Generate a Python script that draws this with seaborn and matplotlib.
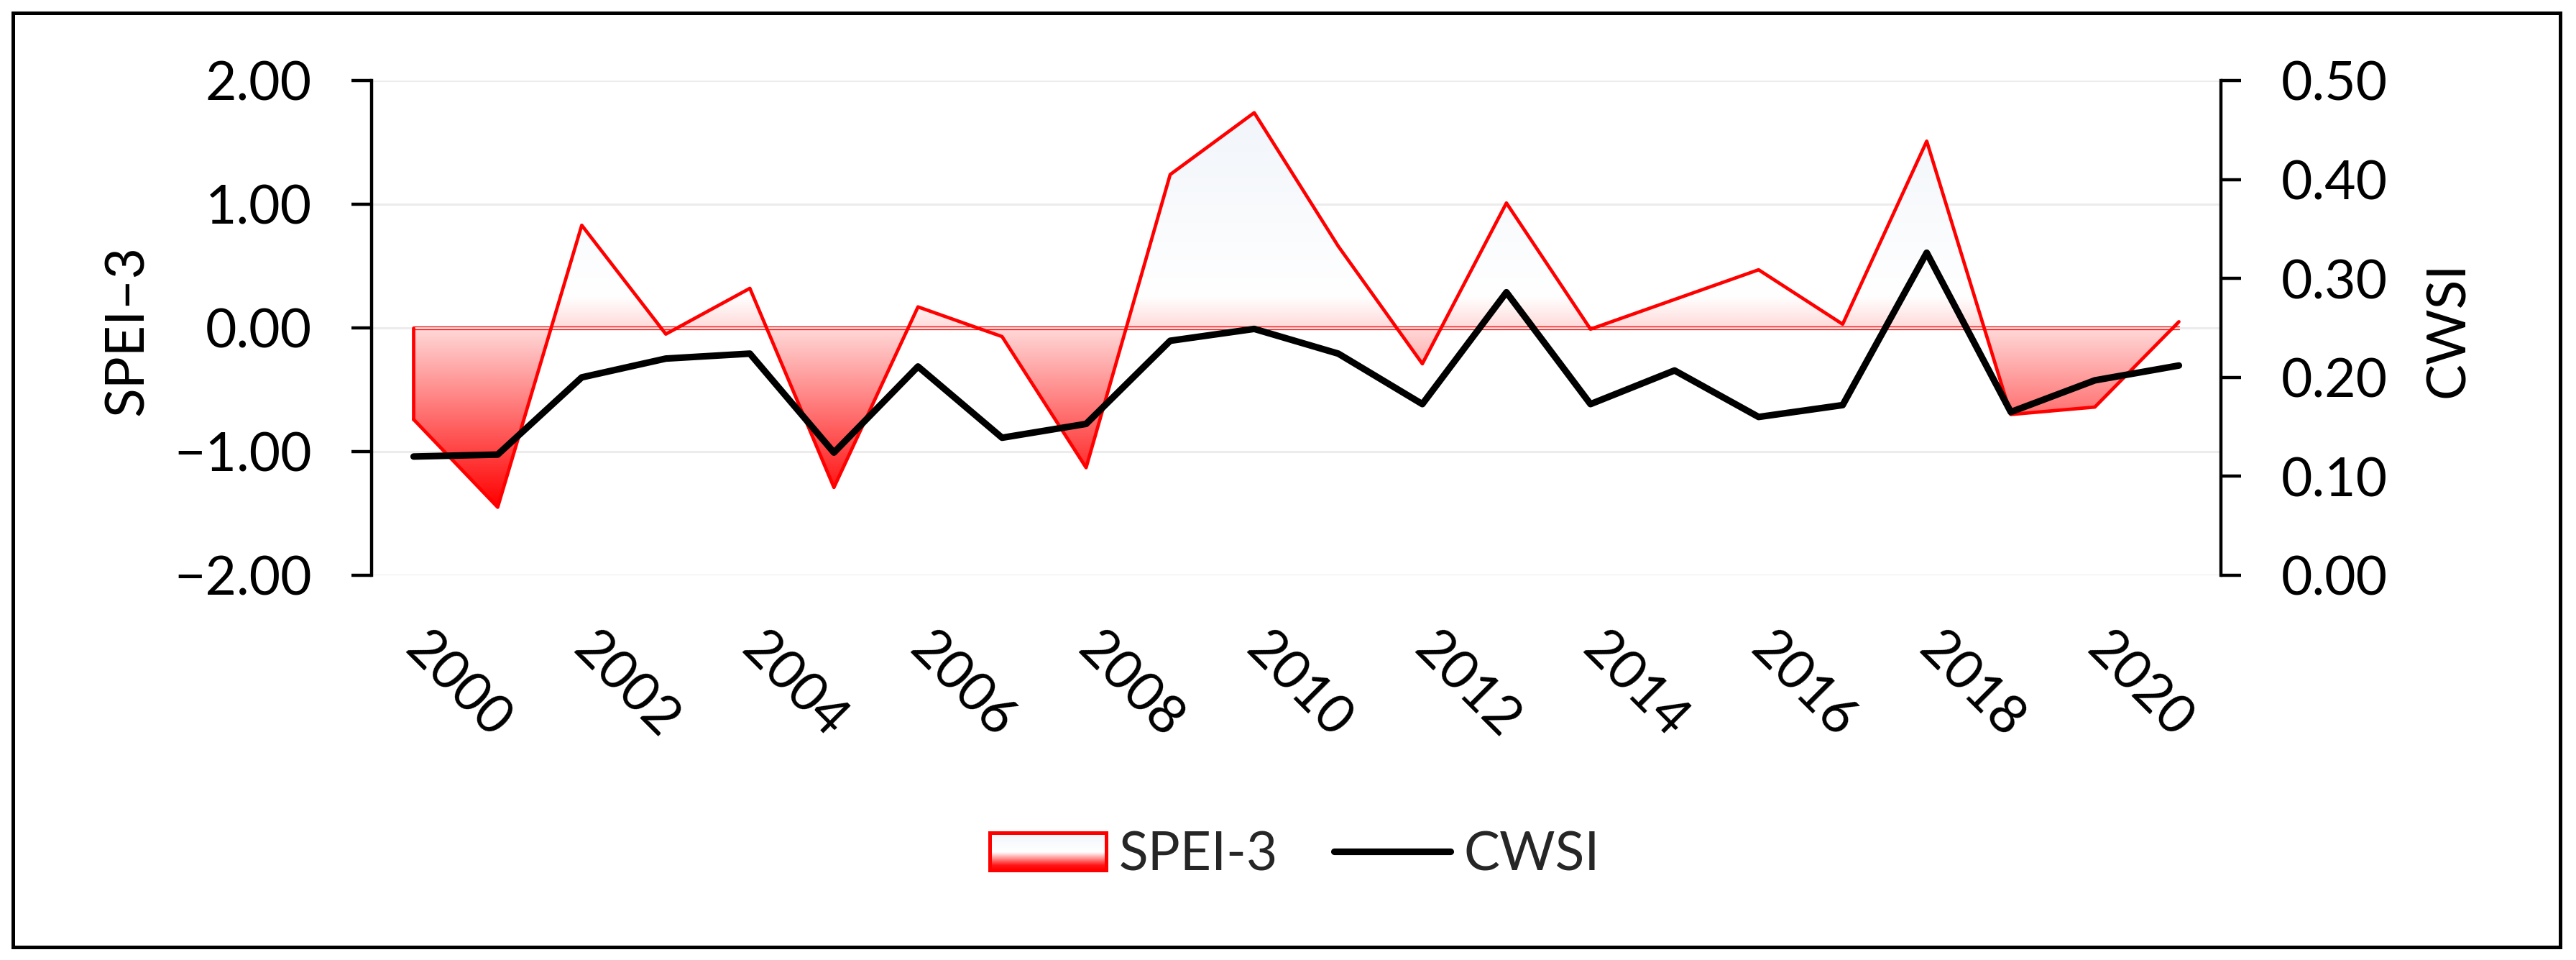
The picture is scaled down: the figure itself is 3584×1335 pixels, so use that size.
import numpy as np
import pandas as pd
import matplotlib
matplotlib.use("Agg")
import matplotlib.pyplot as plt
import seaborn as sns
from matplotlib.colors import LinearSegmentedColormap, Normalize
from matplotlib.legend_handler import HandlerBase
from matplotlib.image import BboxImage
from matplotlib.transforms import Bbox, TransformedBbox, offset_copy
from matplotlib.patches import Rectangle
from matplotlib.lines import Line2D
from matplotlib.ticker import FuncFormatter

# ---------------- data ----------------
years = list(range(2000, 2022))
spei = [-0.74, -1.45, 0.83, -0.05, 0.32, -1.29, 0.17, -0.07, -1.13, 1.24, 1.74,
        0.66, -0.29, 1.01, -0.01, 0.23, 0.47, 0.03, 1.51, -0.70, -0.64, 0.05]
cwsi = [0.120, 0.122, 0.200, 0.219, 0.224, 0.124, 0.211, 0.139, 0.153, 0.237, 0.249,
        0.224, 0.173, 0.286, 0.173, 0.207, 0.160, 0.172, 0.326, 0.165, 0.197, 0.212]
year_ticks = list(range(2000, 2021, 2))
spei_ticks = [-2, -1, 0, 1, 2]
cwsi_ticks = [0.0, 0.1, 0.2, 0.3, 0.4, 0.5]
spei_label = "SPEI\u20133"
cwsi_label = "CWSI"
legend_labels = ["SPEI-3", "CWSI"]

df = pd.DataFrame({"Year": years, "SPEI": spei, "CWSI": cwsi})

# ---------------- style ----------------
sns.set_theme(style="white")
plt.rcParams["font.family"] = ["Lato", "DejaVu Sans"]
FS = 27
RED_LW = 1.7
BLACK_LW = 3.3

W, H = 3584, 1335
DPI = 200
fig = plt.figure(figsize=(W / DPI, H / DPI), dpi=DPI)
fig.patch.set_facecolor("white")

ax = fig.add_axes([517 / W, 1 - 800 / H, (3090 - 517) / W, (800 - 112) / H])
ax2 = ax.twinx()

# gridlines
ax.set_axisbelow(True)
ax.yaxis.grid(True, color="#ececec", lw=1.1)
ax.xaxis.grid(False)
ax2.grid(False)

# gradient fill of the SPEI area
lo, hi = min(spei), max(spei)
wpos = (0.25 - lo) / (hi - lo)
area_cmap = LinearSegmentedColormap.from_list(
    "area", [(0.0, "#ff0000"), (wpos, "#ffffff"), (1.0, "#f1f5fa")])
poly = ax.fill_between(df["Year"], df["SPEI"], 0, facecolor="none", edgecolor="none")
grad = np.linspace(0, 1, 512).reshape(-1, 1)
im = ax.imshow(grad, extent=[years[0] - 0.5, years[-1] + 0.5, lo, hi], origin="lower",
               aspect="auto", cmap=area_cmap, interpolation="bilinear", zorder=1)
im.set_clip_path(poly.get_paths()[0], ax.transData)

# SPEI outline
sns.lineplot(data=df, x="Year", y="SPEI", ax=ax, color="red", linewidth=RED_LW,
             legend=False, zorder=3)
ax.plot([years[0], years[0]], [0, spei[0]], color="red", linewidth=RED_LW, zorder=3)
for dy in (-0.78, 0.78):
    ax.plot([years[0], years[-1]], [0, 0], color="red", lw=0.45, zorder=3,
            transform=offset_copy(ax.transData, fig=fig, y=dy, units="points"))

# CWSI line
sns.lineplot(data=df, x="Year", y="CWSI", ax=ax2, color="black", linewidth=BLACK_LW,
             legend=False, solid_capstyle="round", zorder=4)

# limits
ax.set_xlim(years[0] - 0.5, years[-1] + 0.5)
ax.set_ylim(spei_ticks[0], spei_ticks[-1])
ax2.set_ylim(cwsi_ticks[0], cwsi_ticks[-1])

# spines
for s in ["top", "right", "bottom"]:
    ax.spines[s].set_visible(False)
for s in ["top", "left", "bottom"]:
    ax2.spines[s].set_visible(False)
ax.spines["left"].set_color("black")
ax.spines["left"].set_linewidth(1.6)
ax2.spines["right"].set_color("black")
ax2.spines["right"].set_linewidth(1.6)

# ticks
minus = lambda v: f"{v:.2f}".replace("-", "\u2212")
ax.set_yticks(spei_ticks)
ax.yaxis.set_major_formatter(FuncFormatter(lambda v, p: minus(v)))
ax.tick_params(axis="y", left=True, right=False, length=10, width=1.6, color="black",
               pad=20, labelsize=FS, labelcolor="black", direction="out")
ax2.set_yticks(cwsi_ticks)
ax2.yaxis.set_major_formatter(FuncFormatter(lambda v, p: f"{v:.2f}"))
ax2.tick_params(axis="y", right=True, left=False, length=10, width=1.6, color="black",
                pad=20, labelsize=FS, labelcolor="black", direction="out")

ax.set_xticks(year_ticks)
ax.set_xticklabels([str(y) for y in year_ticks])
ax.tick_params(axis="x", bottom=True, length=0, pad=33, labelsize=FS, labelcolor="black")
for lbl in ax.get_xticklabels():
    lbl.set_rotation(-45)
    lbl.set_ha("left")
    lbl.set_va("center")
    lbl.set_rotation_mode("anchor")
ax.set_xlabel("")
ax.set_ylabel("")
ax2.set_ylabel("")

fig.text(178 / W, 1 - 459 / H, spei_label, rotation=90, ha="center", va="center",
         fontsize=FS, color="black")
fig.text(3406 / W, 1 - 458 / H, cwsi_label, rotation=90, ha="center", va="center",
         fontsize=FS, color="black")

# legend with gradient patch
leg_cmap = LinearSegmentedColormap.from_list(
    "leg", [(0.0, "#ff0000"), (0.12, "#ff1414"), (0.48, "#ffffff"), (1.0, "#f2f6fb")])


class GradientHandler(HandlerBase):
    def create_artists(self, legend, orig_handle, xdescent, ydescent, width, height,
                       fontsize, trans):
        bb = Bbox.from_bounds(-xdescent, -ydescent, width, height)
        tbb = TransformedBbox(bb, trans)
        img = BboxImage(tbb, cmap=leg_cmap, norm=Normalize(0, 1),
                        interpolation="bilinear", origin="lower")
        img.set_data(np.linspace(0, 1, 64).reshape(-1, 1))
        rect = Rectangle((-xdescent, -ydescent), width, height, facecolor="none",
                         edgecolor="red", lw=1.8, transform=trans)
        return [img, rect]


h_spei = Rectangle((0, 0), 1, 1, facecolor="white", edgecolor="red")
h_cwsi = Line2D([], [], color="black", lw=BLACK_LW, solid_capstyle="round")
fig.legend([h_spei, h_cwsi], legend_labels, loc="center",
           bbox_to_anchor=(1801 / W, 1 - 1189 / H), ncol=2, frameon=False,
           fontsize=FS, handlelength=2.16, handleheight=0.68, handletextpad=0.24,
           columnspacing=1.04, handler_map={Rectangle: GradientHandler()})

# outer frame
fig.add_artist(Rectangle((18 / W, 18 / H), (3562 - 18) / W, (1317 - 18) / H,
                         transform=fig.transFigure, fill=False, edgecolor="black",
                         lw=1.8))

fig.savefig("out.png", dpi=DPI)
